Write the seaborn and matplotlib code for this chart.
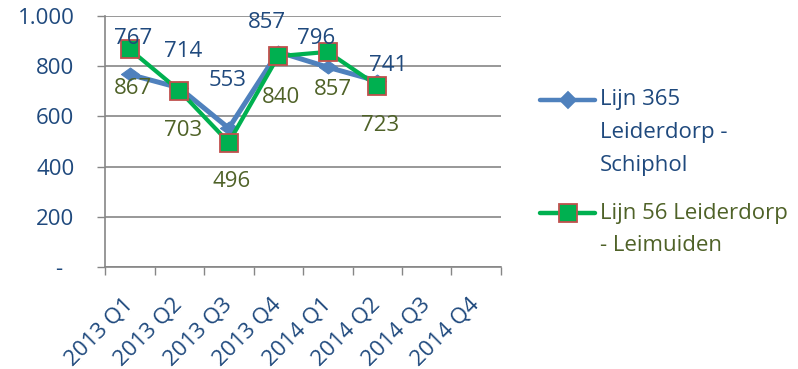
import numpy as np
import pandas as pd
import matplotlib
matplotlib.use("Agg")
import matplotlib.pyplot as plt
import seaborn as sns
from matplotlib.lines import Line2D

# Quarterly figures per bus line
quarters = ["2013 Q1", "2013 Q2", "2013 Q3", "2013 Q4",
            "2014 Q1", "2014 Q2", "2014 Q3", "2014 Q4"]
lijn_365 = [767, 714, 553, 857, 796, 741, np.nan, np.nan]
lijn_56 = [867, 703, 496, 840, 857, 723, np.nan, np.nan]
series_labels = ["Lijn 365\nLeiderdorp -\nSchiphol", "Lijn 56 Leiderdorp\n- Leimuiden"]
y_ticks = [0, 200, 400, 600, 800, 1000]
y_tick_labels = ["-  ", "200", "400", "600", "800", "1.000"]

# label placement (pixel offsets from each point)
offsets_365 = [(3, 36), (4, 36), (-1, 48), (-11, 29), (-12, 29), (11, 16)]
offsets_56 = [(3, -39), (4, -40), (3, -39), (3, -41), (5, -38), (3, -40)]

BLUE = "#4F81BD"
GREEN = "#00B050"
RED_EDGE = "#C0504D"
TXT_BLUE = "#1F497D"
TXT_GREEN = "#4F6228"
GRID = "#868686"

# flattened diamond, wider than tall
WIDE_DIAMOND = [(-1, 0), (0, 0.72), (1, 0), (0, -0.72), (-1, 0)]

sns.set_style("white")
plt.rcParams["font.family"] = ["Open Sans", "DejaVu Sans"]
FS = 16

W, H = 798, 369
fig = plt.figure(figsize=(W / 100, H / 100), dpi=100)
ax = fig.add_axes([105 / W, 1 - 267 / H, 396 / W, 251 / H])

pos = np.arange(len(quarters))
df = pd.DataFrame({"pos": pos, "l365": lijn_365, "l56": lijn_56})

sns.lineplot(data=df, x="pos", y="l365", ax=ax, color=BLUE, linewidth=3.6,
             marker=WIDE_DIAMOND, markersize=13, markeredgecolor=BLUE,
             markerfacecolor=BLUE, zorder=3)
sns.lineplot(data=df, x="pos", y="l56", ax=ax, color=GREEN, linewidth=3.0,
             marker="s", markersize=13, markeredgecolor=RED_EDGE,
             markeredgewidth=1.3, markerfacecolor=GREEN, zorder=4)

for i, v in enumerate(lijn_365):
    if np.isnan(v):
        continue
    dx, dy = offsets_365[i]
    ax.annotate(f"{int(v)}", (pos[i], v), xytext=(dx, dy),
                textcoords="offset pixels", ha="center", va="center",
                fontsize=FS, color=TXT_BLUE, zorder=5)
for i, v in enumerate(lijn_56):
    if np.isnan(v):
        continue
    dx, dy = offsets_56[i]
    ax.annotate(f"{int(v)}", (pos[i], v), xytext=(dx, dy),
                textcoords="offset pixels", ha="center", va="center",
                fontsize=FS, color=TXT_GREEN, zorder=5)

ax.set_xlim(-0.5, len(quarters) - 0.5)
ax.set_ylim(0, 1000)
ax.set_xlabel("")
ax.set_ylabel("")

# y axis with gridlines
ax.set_yticks(y_ticks)
ax.set_yticklabels(y_tick_labels, fontsize=FS, color=TXT_BLUE)
ax.yaxis.grid(True, color=GRID, linewidth=1.2)
ax.tick_params(axis="y", length=6, width=1, color=GRID, pad=16, left=True)

# x axis: tick marks between categories, labels at centres
ax.set_xticks(np.arange(-0.5, len(quarters)), labels=[""] * (len(quarters) + 1))
ax.set_xticks(pos, minor=True)
ax.set_xticklabels(quarters, minor=True, fontsize=FS, color=TXT_BLUE,
                   rotation=45, ha="right", va="center", rotation_mode="anchor")
ax.tick_params(axis="x", which="major", length=6, width=1, color=GRID, bottom=True)
ax.tick_params(axis="x", which="minor", length=0, pad=25)

for side in ["top", "right"]:
    ax.spines[side].set_visible(False)
for side in ["left", "bottom"]:
    ax.spines[side].set_color(GRID)
    ax.spines[side].set_linewidth(1.2)

# legend drawn in figure pixel coordinates
def px(x, y):
    return x / W, 1 - y / H

legend_rows = [
    (100, BLUE, "D", 8, BLUE, TXT_BLUE, series_labels[0]),
    (213, GREEN, "s", 12.5, RED_EDGE, TXT_GREEN, series_labels[1]),
]
for y0, col, mk, ms, edge, tcol, label in legend_rows:
    x1, yy = px(540, y0)
    x2, _ = px(595, y0)
    xm, _ = px(568, y0)
    fig.add_artist(Line2D([x1, x2], [yy, yy], color=col, linewidth=3.2,
                          solid_capstyle="round", transform=fig.transFigure))
    fig.add_artist(Line2D([xm], [yy], marker=mk, markersize=ms, color=col,
                          markerfacecolor=col, markeredgecolor=edge,
                          markeredgewidth=1.3, transform=fig.transFigure))
    for k, line in enumerate(label.split("\n")):
        tx, ty = px(600, y0 + 32.5 * k)
        fig.text(tx, ty, line, fontsize=FS, color=tcol, ha="left", va="center")

fig.savefig("out.png", dpi=100)
